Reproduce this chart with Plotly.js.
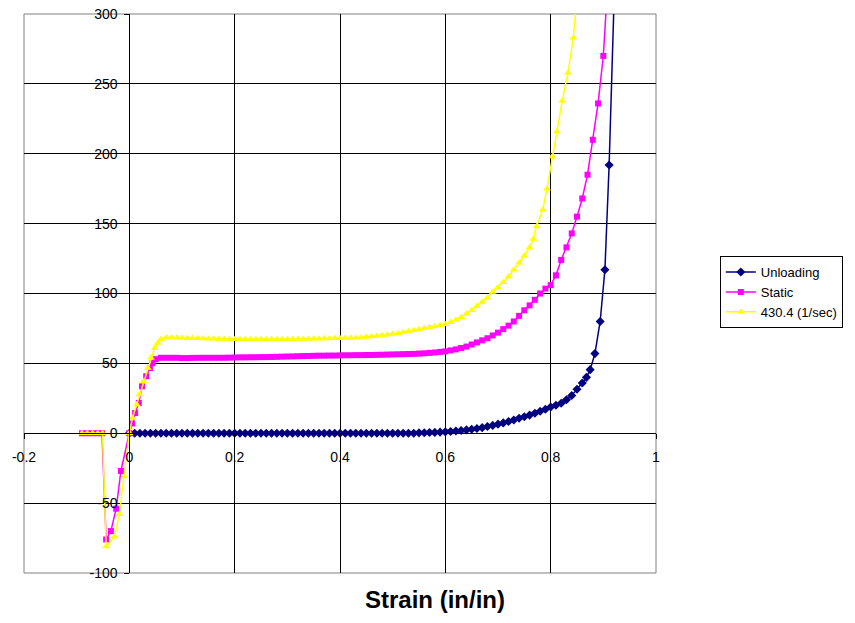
<!DOCTYPE html>
<html>
<head>
<meta charset="utf-8">
<script src="https://cdn.plot.ly/plotly-3.0.1.min.js"></script>
<style>html,body{margin:0;padding:0;background:#fff;}#chart{width:855px;height:623px;}</style>
</head>
<body>
<div id="chart"></div>
<script>
// ---- Data ----
const SERIES_NAMES = ['Unloading', 'Static', '430.4 (1/sec)'];

const UNLOADING_X = [0,0.01,0.02,0.03,0.04,0.05,0.06,0.07,0.08,0.09,0.10,0.11,0.12,0.13,0.14,0.15,0.16,0.17,0.18,0.19,0.20,
  0.21,0.22,0.23,0.24,0.25,0.26,0.27,0.28,0.29,0.30,0.31,0.32,0.33,0.34,0.35,0.36,0.37,0.38,0.39,0.40,
  0.41,0.42,0.43,0.44,0.45,0.46,0.47,0.48,0.49,0.50,0.51,0.52,0.53,0.54,0.55,0.56,0.57,0.58,0.59,0.60,
  0.61,0.62,0.63,0.64,0.65,0.66,0.67,0.68,0.69,0.70,0.71,0.72,0.73,0.74,0.75,0.76,0.77,0.78,0.79,0.80,
  0.81,0.82,0.83,0.84,0.85,0.86,0.868,0.875,0.884,0.894,0.903,0.911,0.922];
const UNLOADING_Y = [0,0,0,0,0,0,0,0,0,0,0,0,0,0,0,0,0,0,0,0,0,
  0,0,0,0,0,0,0,0,0,0,0,0,0,0,0,0,0,0,0,0,
  0,0,0,0,0,0,0,0,0,0,0,0,0,0,0.3,0.4,0.5,0.6,0.8,1,
  1.3,1.6,2,2.4,2.9,3.4,4,4.8,5.6,6.5,7.4,8.4,9.5,10.7,11.8,13,14.3,15.7,17.2,18.8,
  20,21.5,24,27,31.5,36,40,45.5,57,80,117,192,330];

const STATIC_X = [-0.09,-0.08,-0.07,-0.06,-0.052,-0.044,-0.035,-0.025,-0.016,0,0.005,0.011,0.018,0.024,0.032,0.039,0.044,0.05,0.06,
  0.07,0.08,0.09,0.10,0.11,0.12,0.13,0.14,0.15,0.16,0.17,0.18,0.19,0.20,
  0.21,0.22,0.23,0.24,0.25,0.26,0.27,0.28,0.29,0.30,0.31,0.32,0.33,0.34,0.35,0.36,0.37,0.38,0.39,0.40,
  0.41,0.42,0.43,0.44,0.45,0.46,0.47,0.48,0.49,0.50,0.51,0.52,0.53,0.54,0.55,0.56,0.57,0.58,0.59,0.60,
  0.61,0.62,0.63,0.64,0.65,0.66,0.67,0.68,0.69,0.70,0.71,0.72,0.73,0.74,0.75,0.76,0.77,0.78,0.79,0.80,
  0.81,0.82,0.83,0.84,0.85,0.86,0.87,0.88,0.89,0.90,0.908];
const STATIC_Y = [0,0,0,0,0,-76,-70,-54,-27,0,7,14.5,21.7,33.6,40.8,46.7,50.3,53,54,
  54,54,54,53.8,53.8,53.9,54,54,54,54,54,54,54.1,54.2,
  54.3,54.3,54.4,54.4,54.5,54.5,54.6,54.7,54.8,54.9,55,55.1,55.2,55.3,55.4,55.5,55.5,55.6,55.6,55.7,
  55.8,55.8,55.9,55.9,56,56,56.1,56.2,56.3,56.4,56.5,56.6,56.7,56.8,57,57.2,57.5,57.8,58.2,58.6,
  59.3,60,61,62,63.5,65,66.5,68,70,72,74.5,77,80,84,88,91.5,95.5,100,103.5,106,
  113,124,133,143,155,168,185,210,236,270,320];

const RATE_X = [-0.09,-0.08,-0.07,-0.06,-0.051,-0.044,-0.028,-0.019,-0.0095,0,0.006,0.014,0.019,0.027,0.035,0.041,0.048,0.054,0.06,
  0.07,0.08,0.09,0.10,0.11,0.12,0.13,0.14,0.15,0.16,0.17,0.18,0.19,0.20,
  0.21,0.22,0.23,0.24,0.25,0.26,0.27,0.28,0.29,0.30,0.31,0.32,0.33,0.34,0.35,0.36,0.37,0.38,0.39,0.40,
  0.41,0.42,0.43,0.44,0.45,0.46,0.47,0.48,0.49,0.50,0.51,0.52,0.53,0.54,0.55,0.56,0.57,0.58,0.59,0.60,
  0.61,0.62,0.63,0.64,0.65,0.66,0.67,0.68,0.69,0.70,0.71,0.72,0.73,0.74,0.75,0.76,0.767,0.773,
  0.785,0.793,0.803,0.812,0.822,0.833,0.843,0.852];
const RATE_Y = [0,0,0,0,0,-81,-74,-58,-31,0,11,20.5,27.7,37,46.7,54,61,64.6,67.5,
  68.5,68.5,68.3,68.2,68,68,67.9,67.8,67.7,67.6,67.5,67.4,67.3,67.2,
  67.2,67.2,67.2,67.2,67.2,67.2,67.2,67.2,67.2,67.3,67.3,67.4,67.4,67.5,67.6,67.7,67.8,67.8,67.9,68,
  68.1,68.2,68.4,68.6,68.9,69.2,69.5,69.9,70.4,71,71.6,72.2,72.9,73.7,74.5,75.2,75.9,76.6,77.3,78,
  79.5,81,83,85.5,88,91,94,97,101,104.5,108,112,117,122,127,133,139,148,
  160,175,198,216,238,258,283,320];

const X_TICKS = [-0.2, 0, 0.2, 0.4, 0.6, 0.8, 1];
const X_TICK_LABELS = ['-0.2', '0', '0.2', '0.4', '0.6', '0.8', '1'];
const Y_TICKS = [-100, -50, 0, 50, 100, 150, 200, 250, 300];
const Y_TICK_LABELS = ['-100', '-50', '0', '50', '100', '150', '200', '250', '300'];
const X_TITLE = 'Strain (in/in)';

// ---- Chart ----
const FONT = 'Arial, "Liberation Sans", sans-serif';
const traces = [
  {x: UNLOADING_X, y: UNLOADING_Y, name: SERIES_NAMES[0], type: 'scatter', mode: 'lines+markers',
   line: {color: '#000080', width: 1.5}, marker: {symbol: 'diamond', size: 7, color: '#000080'}},
  {x: STATIC_X, y: STATIC_Y, name: SERIES_NAMES[1], type: 'scatter', mode: 'lines+markers',
   line: {color: '#FF00FF', width: 1.5}, marker: {symbol: 'square', size: 6, color: '#FF00FF'}},
  {x: RATE_X, y: RATE_Y, name: SERIES_NAMES[2], type: 'scatter', mode: 'lines+markers',
   line: {color: '#FFFF00', width: 1.5}, marker: {symbol: 'triangle-up', size: 7, color: '#FFFF00'}}
];

const layout = {
  width: 855, height: 623,
  margin: {l: 24, r: 199, t: 14, b: 50, pad: 0},
  paper_bgcolor: '#ffffff', plot_bgcolor: '#ffffff',
  font: {family: FONT, size: 14, color: '#000'},
  showlegend: true,
  legend: {x: 1.101, y: 0.567, xanchor: 'left', yanchor: 'top', bgcolor: '#ffffff',
           bordercolor: '#000', borderwidth: 1, font: {family: FONT, size: 13, color: '#000'},
           tracegroupgap: 0},
  xaxis: {range: [-0.2, 1], tickvals: X_TICKS, ticktext: X_TICK_LABELS,
          showgrid: true, gridcolor: '#000', gridwidth: 1, zeroline: false,
          showline: true, linecolor: '#000', linewidth: 1,
          anchor: 'free', position: 0.25,
          ticks: 'outside', ticklen: 5, tickcolor: '#000', ticklabelstandoff: 6,
          tickfont: {family: FONT, size: 14, color: '#000'}, fixedrange: true},
  yaxis: {range: [-100, 300], tickvals: Y_TICKS, ticktext: Y_TICK_LABELS,
          showgrid: true, gridcolor: '#000', gridwidth: 1, zeroline: false,
          showline: true, linecolor: '#000', linewidth: 1,
          anchor: 'free', position: 1/6,
          ticks: 'outside', ticklen: 5, tickcolor: '#000', ticklabelstandoff: 4,
          tickfont: {family: FONT, size: 14, color: '#000'}, fixedrange: true},
  shapes: [{type: 'rect', xref: 'paper', yref: 'paper', x0: 0, y0: 0, x1: 1, y1: 1,
            line: {color: '#808080', width: 1}, layer: 'between'}],
  annotations: [{text: '<b>' + X_TITLE + '</b>', xref: 'paper', yref: 'paper', x: 0.65, y: -0.048,
                 xanchor: 'center', yanchor: 'middle', showarrow: false,
                 font: {family: FONT, size: 24, color: '#000'}}]
};

Plotly.newPlot('chart', traces, layout, {displayModeBar: false, staticPlot: true});
</script>
</body>
</html>
